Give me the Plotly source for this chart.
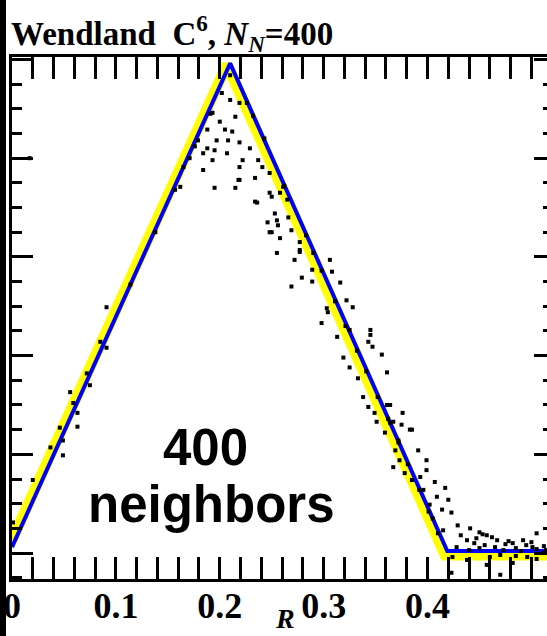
import plotly.graph_objects as go

# ---- data (data units: x = R, y = kernel density, arbitrary units) ----
blue_x = [0.0, 0.210, 0.419, 0.515]
blue_y = [0.06, 4.96, 0.02, 0.02]

yellow_x = [0.0, 0.207, 0.417, 0.515]
yellow_y = [0.13, 4.95, -0.02, -0.02]

dots_x = [
    # ascending edge
    0.091, 0.085, 0.091, 0.072, 0.056, 0.063, 0.046, 0.037, 0.049, 0.020, 0.001,
    0.075, 0.059, 0.063, 0.049, 0.114, 0.138, 0.157, 0.176, 0.191, 0.017,
    # apex cloud
    0.210, 0.202, 0.193, 0.210, 0.219, 0.226, 0.215, 0.200, 0.205, 0.212, 0.188,
    0.197, 0.208, 0.219, 0.188, 0.195, 0.229, 0.207, 0.193, 0.237, 0.222, 0.241,
    0.184, 0.219, 0.234, 0.248, 0.219, 0.195, 0.215, 0.250, 0.234, 0.265, 0.253,
    0.246, 0.256, 0.248, 0.269, 0.258, 0.277, 0.255, 0.277, 0.290, 0.266, 0.261,
    0.258, 0.179, 0.162, 0.165, 0.184, 0.218, 0.236, 0.248, 0.255, 0.250, 0.171,
    # descending edge
    0.272, 0.277, 0.289, 0.279, 0.289, 0.269, 0.306, 0.308, 0.316, 0.322, 0.303,
    0.304, 0.298, 0.328, 0.313, 0.325, 0.345, 0.345, 0.343, 0.347, 0.319, 0.325,
    0.356, 0.361, 0.333, 0.338, 0.343, 0.349, 0.364, 0.367, 0.376, 0.375, 0.383,
    0.351, 0.361, 0.359, 0.385, 0.369, 0.391, 0.399, 0.367, 0.378, 0.399, 0.385,
    0.407, 0.396, 0.417, 0.409, 0.402, 0.420, 0.423, 0.414, 0.429, 0.441, 0.450,
    0.457, 0.467, 0.438, 0.482, 0.492, 0.501, 0.428, 0.450, 0.473, 0.460, 0.424,
    0.438, 0.457, 0.482, 0.496, 0.511, 0.505, 0.423, 0.470, 0.405, 0.415, 0.393,
    0.373, 0.372, 0.364,
    0.232, 0.243, 0.262, 0.283, 0.298, 0.311, 0.321, 0.332, 0.341, 0.352, 0.362,
    0.372, 0.381, 0.392, 0.401, 0.410,
    # tail cloud
    0.445, 0.455, 0.465, 0.475, 0.485, 0.495, 0.505, 0.512, 0.447, 0.462, 0.478,
    0.490, 0.500, 0.470, 0.485, 0.440, 0.432, 0.453, 0.505, 0.514,
]
dots_y = [
    2.49, 2.14, 2.08, 1.82, 1.63, 1.42, 1.27, 1.07, 1.14, 0.74, 0.31,
    1.70, 1.52, 1.28, 0.99, 2.72, 3.25, 3.68, 4.12, 4.45, 4.00,
    4.84, 4.66, 4.46, 4.59, 4.56, 4.56, 4.42, 4.37, 4.29, 4.27, 4.29,
    4.18, 4.18, 4.16, 4.10, 4.08, 4.10, 4.05, 3.98, 3.98, 3.98, 3.91,
    3.88, 3.91, 3.80, 3.85, 3.78, 3.70, 3.70, 3.61, 3.56, 3.58, 3.44,
    3.35, 3.32, 3.25, 3.27, 3.19, 3.15, 3.04, 3.05, 3.04, 3.40, 3.71,
    3.65, 4.18, 3.71, 3.91, 4.05, 3.78, 3.55, 3.65, 3.37, 3.25, 4.00,
    2.97, 3.07, 2.87, 2.79, 2.75, 2.70, 2.97, 2.85, 2.74, 2.56, 2.48,
    2.44, 2.33, 2.49, 2.19, 2.26, 2.26, 2.21, 2.14, 2.09, 1.98, 1.88,
    2.01, 1.83, 1.77, 1.58, 1.48, 1.42, 1.50, 1.33, 1.42, 1.30, 1.25,
    1.33, 1.50, 1.22, 1.25, 1.04, 1.04, 0.94, 0.87, 0.81, 0.84, 0.74,
    0.72, 0.64, 0.66, 0.57, 0.49, 0.54, 0.41, 0.44, 0.28, 0.25, 0.21,
    0.18, 0.13, 0.13, 0.10, 0.13, 0.06, 0.06, 0.05, 0.03, -0.04, -0.04,
    -0.07, -0.12, -0.10, -0.04, 0.00, 0.20, -0.20, -0.22, 0.35, 0.23, 0.77,
    0.94, 1.14, 1.32,
    4.43, 4.20, 3.72, 3.22, 2.86, 2.55, 2.30, 2.05, 1.84, 1.58, 1.36,
    1.12, 0.90, 0.64, 0.42, 0.20,
    0.10, 0.08, 0.06, 0.09, 0.05, 0.08, 0.04, 0.07, 0.15, 0.16, 0.12,
    0.02, 0.11, -0.02, -0.03, 0.03, 0.18, 0.19, -0.06, 0.03,
]

x_tickvals = [0.0, 0.1, 0.2, 0.3, 0.4]
x_ticktext = ["0", "0.1", "0.2", "0.3", "0.4"]
y_tickvals = [0, 1, 2, 3, 4, 5]

title_text = "Wendland\u00a0\u00a0C<sup>6</sup>,\u00a0<i>N</i><sub><i>N</i></sub>=400"
label_line1 = "400"
label_line2 = "neighbors"

W, H = 547, 636
ML, MR, MT, MB = 12, 0, 57, 57
PW, PH = W - ML - MR, H - MT - MB

fig = go.Figure()
fig.add_trace(go.Scatter(x=yellow_x, y=yellow_y, mode="lines",
                         line=dict(color="#FFFF00", width=11), hoverinfo="skip"))
fig.add_trace(go.Scatter(x=blue_x, y=blue_y, mode="lines",
                         line=dict(color="#0000FF", width=4), hoverinfo="skip"))
fig.add_trace(go.Scatter(x=dots_x, y=dots_y, mode="markers",
                         marker=dict(symbol="square", size=4, color="black",
                                     line=dict(width=0)), hoverinfo="skip"))
# invisible trace to anchor the right-hand tick axis
fig.add_trace(go.Scatter(x=blue_x, y=blue_y, mode="lines", yaxis="y2",
                         line=dict(width=0), opacity=0, hoverinfo="skip"))

serif = "Liberation Serif"
fig.update_layout(
    width=W, height=H,
    margin=dict(l=ML, r=MR, t=MT, b=MB, pad=0, autoexpand=False),
    paper_bgcolor="white", plot_bgcolor="white",
    showlegend=False,
    xaxis=dict(
        range=[0, 0.515], tickmode="array", tickvals=x_tickvals, ticktext=x_ticktext,
        ticks="inside", ticklen=22, tickwidth=3, tickcolor="black",
        showline=True, linewidth=3, linecolor="black", mirror="allticks",
        showgrid=False, zeroline=False, automargin=False, ticklabelstandoff=-7,
        tickfont=dict(family=serif, size=36, color="black", weight="bold"),
        minor=dict(ticks="inside", ticklen=13, tickwidth=2.5, tickcolor="black",
                   tick0=0, dtick=0.02, showgrid=False),
    ),
    yaxis=dict(
        range=[-0.263, 5.025], tickmode="array", tickvals=y_tickvals,
        ticks="inside", ticklen=21, tickwidth=3, tickcolor="black",
        showticklabels=False, showline=True, linewidth=3, linecolor="black",
        mirror=False, showgrid=False, zeroline=False, automargin=False,
        minor=dict(ticks="inside", ticklen=10, tickwidth=2.5, tickcolor="black",
                   tick0=0, dtick=0.25, showgrid=False),
    ),
    yaxis2=dict(
        overlaying="y", side="right", matches="y", tickmode="array", tickvals=y_tickvals,
        ticks="inside", ticklen=13, tickwidth=3, tickcolor="black", automargin=False,
        showticklabels=False, showline=False, showgrid=False, zeroline=False,
        minor=dict(ticks="inside", ticklen=4, tickwidth=2.5, tickcolor="black",
                   tick0=0, dtick=0.25, showgrid=False),
    ),
    shapes=[dict(type="rect", xref="paper", yref="paper",
                 x0=-ML / PW, x1=(6 - ML) / PW, y0=-MB / PH - 0.01, y1=1 + MT / PH + 0.01,
                 fillcolor="black", line=dict(width=0), layer="above")],
    annotations=[
        dict(text=title_text, xref="paper", yref="paper", x=(9 - ML) / PW, y=1 + 24 / PH,
             xanchor="left", yanchor="middle", showarrow=False,
             font=dict(family=serif, size=33, color="black", weight="bold")),
        dict(text="<i>R</i>", xref="paper", yref="paper", x=(285 - ML) / PW, y=-57 / PH,
             xanchor="center", yanchor="bottom", showarrow=False,
             font=dict(family=serif, size=28, color="black", weight="bold")),
        dict(text=label_line1, xref="x", yref="y", x=0.186, y=1.07,
             xanchor="center", yanchor="middle", showarrow=False,
             font=dict(family="Liberation Sans", size=51, color="black", weight="bold")),
        dict(text=label_line2, xref="x", yref="y", x=0.192, y=0.49,
             xanchor="center", yanchor="middle", showarrow=False,
             font=dict(family="Liberation Sans", size=51, color="black", weight="bold")),
    ],
)

fig.write_html("out.html", config={"displayModeBar": False},
               post_script="document.body.style.margin='0px';document.body.style.overflow='hidden';")
